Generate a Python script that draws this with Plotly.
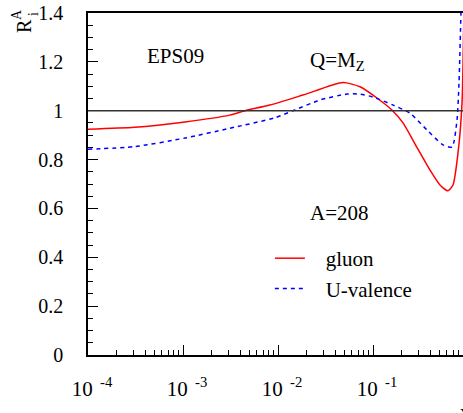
import plotly.graph_objects as go

# gluon nuclear modification (EPS09, A=208, Q=MZ)
gluon_x = [1e-4, 3.1e-4, 1.05e-3, 3.1e-3, 4.5e-3, 8.2e-3, 0.0183, 0.0483, 0.073, 0.110,
           0.158, 0.207, 0.290, 0.398, 0.507, 0.615, 0.695, 0.785, 0.865, 0.908]
gluon_r = [0.924, 0.932, 0.954, 0.982, 1.0, 1.023, 1.064, 1.115, 1.098, 1.052,
           1.003, 0.95, 0.85, 0.757, 0.696, 0.672, 0.696, 0.827, 1.03, 1.45]

# U-valence
uval_x = [1e-4, 3.1e-4, 1.05e-3, 3.1e-3, 9.3e-3, 0.0144, 0.0277, 0.0532, 0.073, 0.100,
          0.163, 0.245, 0.370, 0.546, 0.679, 0.766, 0.804, 0.843, 0.885]
uval_r = [0.842, 0.853, 0.888, 0.928, 0.971, 1.0, 1.044, 1.068, 1.068, 1.056,
          1.023, 0.99, 0.921, 0.86, 0.851, 0.962, 1.113, 1.4, 1.7]

NB = "\u00a0"
x_tickvals = [1e-4, 1e-3, 1e-2, 1e-1]
x_ticktext = ["10<sup>" + NB * 2 + "-4</sup>", "10<sup>" + NB * 2 + "-3</sup>",
              "10<sup>" + NB * 2 + "-2</sup>", "10<sup>" + NB * 2 + "-1</sup>"]
x_minor = [m * 10.0 ** e for e in range(-4, 0) for m in range(2, 10)]
y_tickvals = [0, 0.2, 0.4, 0.6, 0.8, 1.0, 1.2, 1.4]
y_ticktext = ["0", "0.2", "0.4", "0.6", "0.8", "1", "1.2", "1.4"]

FONT = "Times New Roman"

fig = go.Figure()
fig.add_trace(go.Scatter(x=gluon_x, y=gluon_r, mode="lines", name=NB * 3 + "gluon",
                         line=dict(color="#ff0000", width=1.5, shape="spline", smoothing=0.6)))
fig.add_trace(go.Scatter(x=uval_x, y=uval_r, mode="lines", name=NB * 3 + "U-valence",
                         line=dict(color="#0000ff", width=1.5, dash="4px,4px", shape="spline", smoothing=0.6)))

fig.add_hline(y=1.0, line=dict(color="#333333", width=1.5))

fig.update_layout(
    width=463, height=413,
    margin=dict(l=88, r=0, t=13, b=58, autoexpand=False),
    paper_bgcolor="white", plot_bgcolor="white",
    font=dict(family=FONT, size=20, color="black"),
    showlegend=True,
    legend=dict(x=0.485, y=0.342, xanchor="left", yanchor="top", bgcolor="rgba(0,0,0,0)",
                font=dict(family=FONT, size=21), tracegroupgap=0),
    xaxis=dict(type="log", range=[-4, -0.0526], showline=True, linecolor="black", linewidth=1.5,
               mirror=True, ticks="inside", ticklen=10, tickwidth=1, tickcolor="black",
               tickvals=x_tickvals, ticktext=x_ticktext, showgrid=False, zeroline=False,
               automargin=False, ticklabeloverflow="allow", ticklabelshift=4,
               ticklabelstandoff=14, tickfont=dict(family=FONT, size=21),
               minor=dict(ticks="inside", ticklen=5, tickmode="array", tickvals=x_minor,
                          tickcolor="black", tickwidth=1, showgrid=False)),
    yaxis=dict(range=[0, 1.4], showline=True, linecolor="black", linewidth=1.5, mirror=False,
               ticks="inside", ticklen=10, tickwidth=1, tickcolor="black",
               tickvals=y_tickvals, ticktext=y_ticktext, showgrid=False, zeroline=False,
               automargin=False, ticklabeloverflow="allow",
               ticklabelstandoff=19, tickfont=dict(family=FONT, size=20),
               minor=dict(ticks="inside", ticklen=5, tickmode="linear", tick0=0, dtick=0.05,
                          tickcolor="black", tickwidth=1, showgrid=False)),
)

# axis title R_i^A (rotated), with stacked sub/superscript
fig.add_annotation(text="R", xref="paper", yref="paper", x=-0.1707, y=0.962,
                   xanchor="center", yanchor="middle", textangle=-90, showarrow=False,
                   font=dict(family=FONT, size=20))
fig.add_annotation(text="A", xref="paper", yref="paper", x=-0.192, y=0.994,
                   xanchor="center", yanchor="middle", textangle=-90, showarrow=False,
                   font=dict(family=FONT, size=14))
fig.add_annotation(text="i", xref="paper", yref="paper", x=-0.1467, y=0.997,
                   xanchor="center", yanchor="middle", textangle=-90, showarrow=False,
                   font=dict(family=FONT, size=14))

fig.add_annotation(text="EPS09", xref="paper", yref="y", x=0.232, y=1.224, showarrow=False,
                   xanchor="center", yanchor="middle", font=dict(family=FONT, size=21))
fig.add_annotation(text="Q=M<sub>Z</sub>", xref="paper", yref="y", x=0.587, y=1.205, showarrow=False,
                   xanchor="left", yanchor="middle", font=dict(family=FONT, size=21))
fig.add_annotation(text="A=208", xref="paper", yref="y", x=0.587, y=0.581, showarrow=False,
                   xanchor="left", yanchor="middle", font=dict(family=FONT, size=21))
fig.add_annotation(text="x", xref="paper", yref="paper", x=1.0, y=-0.128, showarrow=False,
                   xanchor="left", yanchor="top", xshift=-5, font=dict(family=FONT, size=20))

fig.write_html("out.html", post_script="document.body.style.margin='0px';",
               config={"displayModeBar": False})
